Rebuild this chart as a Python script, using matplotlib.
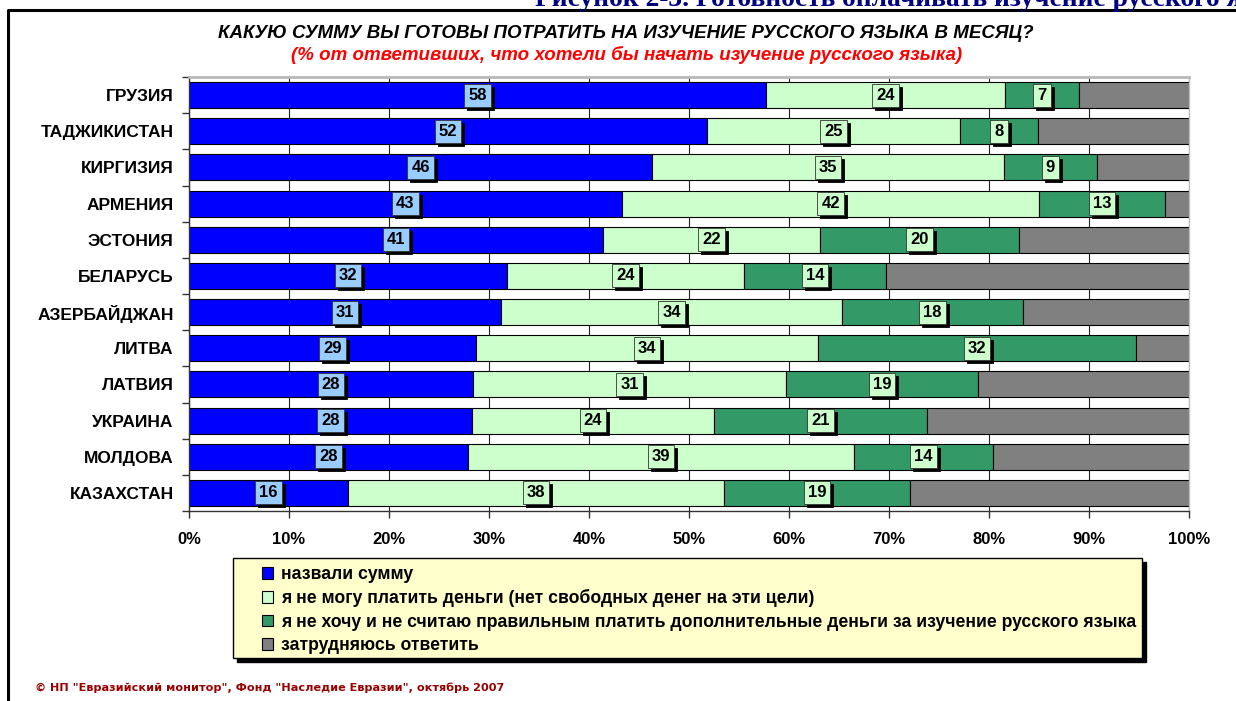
import matplotlib
matplotlib.use('Agg')
import matplotlib.pyplot as plt
import matplotlib.transforms as mtransforms
from matplotlib.patches import Rectangle
from matplotlib.lines import Line2D

plt.rcParams['font.family'] = ['Liberation Sans', 'DejaVu Sans']

countries = ["ГРУЗИЯ", "ТАДЖИКИСТАН", "КИРГИЗИЯ", "АРМЕНИЯ", "ЭСТОНИЯ", "БЕЛАРУСЬ",
             "АЗЕРБАЙДЖАН", "ЛИТВА", "ЛАТВИЯ", "УКРАИНА", "МОЛДОВА", "КАЗАХСТАН"]
named_sum = [57.7, 51.8, 46.3, 43.3, 41.4, 31.8, 31.2, 28.7, 28.4, 28.3, 27.9, 15.9]
cannot_pay = [23.9, 25.3, 35.2, 41.7, 21.7, 23.7, 34.1, 34.2, 31.3, 24.2, 38.6, 37.6]
dont_want = [7.4, 7.8, 9.3, 12.6, 19.9, 14.2, 18.1, 31.8, 19.2, 21.3, 13.9, 18.6]
hard_to_say = [11.0, 15.1, 9.2, 2.4, 17.0, 30.3, 16.6, 5.3, 21.1, 26.2, 19.6, 27.9]

series_names = ["назвали сумму",
                "я не могу платить деньги (нет свободных денег на эти цели)",
                "я не хочу и не считаю правильным платить дополнительные деньги за изучение русского языка",
                "затрудняюсь ответить"]
x_ticks = [0, 10, 20, 30, 40, 50, 60, 70, 80, 90, 100]
x_tick_labels = ["0%", "10%", "20%", "30%", "40%", "50%", "60%", "70%", "80%", "90%", "100%"]

title = "КАКУЮ СУММУ ВЫ ГОТОВЫ ПОТРАТИТЬ НА ИЗУЧЕНИЕ РУССКОГО ЯЗЫКА В МЕСЯЦ?"
subtitle = "(% от ответивших, что хотели бы начать изучение русского языка)"
header_prefix = "Рисунок 2-3. "
header_rest = "Готовность оплачивать изучение русского языка"
footer = "© НП \"Евразийский монитор\", Фонд \"Наследие Евразии\", октябрь 2007"

colors = ["#0000FF", "#CCFFCC", "#339966", "#808080"]
label_fc = ["#99CCFF", "#CCFFCC", "#CCFFCC", None]

W, H = 1236, 701
fig = plt.figure(figsize=(W / 100, H / 100), dpi=100)
fig.patch.set_facecolor('white')

def fx(px):
    return px / W

def fy(py):
    return 1 - py / H

ax = fig.add_axes([fx(189), fy(511), 1000 / W, 434 / H])

series = [named_sum, cannot_pay, dont_want, hard_to_say]
ypos = list(range(len(countries)))
lefts = [0.0] * len(countries)
containers = []
for s_idx, vals in enumerate(series):
    bc = ax.barh(ypos, vals, left=lefts, height=0.72, color=colors[s_idx],
                 edgecolor='black', linewidth=0.8, zorder=2, label=series_names[s_idx])
    containers.append(bc)
    if label_fc[s_idx] is not None:
        shadow_tr = mtransforms.offset_copy(ax.transData, fig=fig, x=3, y=-3, units='dots')
        for yi, (l, v) in enumerate(zip(lefts, vals)):
            cx = l + v / 2
            txt = f"{v:.0f}"
            ax.text(cx, yi, txt, ha='center', va='center', fontsize=12, fontweight='bold',
                    color='black', transform=shadow_tr, zorder=4,
                    bbox=dict(boxstyle='square,pad=0.24', fc='black', ec='black', lw=0.6))
            ax.text(cx, yi, txt, ha='center', va='center', fontsize=12, fontweight='bold',
                    color='black', zorder=5,
                    bbox=dict(boxstyle='square,pad=0.24', fc=label_fc[s_idx], ec='#333333', lw=0.6))
    lefts = [l + v for l, v in zip(lefts, vals)]

ax.set_xlim(0, 100)
ax.set_ylim(len(countries) - 0.5, -0.5)
ax.set_xticks(x_ticks)
ax.set_xticklabels(x_tick_labels, fontsize=12, fontweight='bold')
ax.set_yticks(ypos)
ax.set_yticklabels(countries, fontsize=12.5, fontweight='bold')
ax.tick_params(axis='y', which='major', length=0, pad=11)
ax.set_yticks([k + 0.5 for k in range(-1, len(countries))], minor=True)
ax.tick_params(axis='y', which='minor', length=5, width=1, color='#333333', direction='out')
ax.tick_params(axis='x', which='major', length=5, width=1, color='#333333', direction='out', pad=10)
ax.xaxis.grid(True, color='#222222', linewidth=0.8, zorder=0)
ax.set_axisbelow(True)
ax.spines['top'].set_color('#B8B8B8')
ax.spines['top'].set_linewidth(2)
ax.spines['right'].set_color('#C0C0C0')
ax.spines['right'].set_linewidth(1)
for side in ['left', 'bottom']:
    ax.spines[side].set_color('#333333')
    ax.spines[side].set_linewidth(1)

# Titles
fig.text(fx(626), fy(33), title, ha='center', va='center', fontsize=13.5,
         fontweight='bold', style='italic', color='black')
fig.text(fx(627), fy(55), subtitle, ha='center', va='center', fontsize=13.5,
         fontweight='bold', style='italic', color='#FF0000')

# header (clipped at top of the figure), placed so that "Готовность..." starts at x=703
renderer = fig.canvas.get_renderer()
hdr_size = 19.8
probe = fig.text(0, 0, header_prefix.strip() + "_", fontsize=hdr_size, fontweight='bold',
                 family='Liberation Serif')
pre_w = probe.get_window_extent(renderer).width
probe.remove()
fig.text(fx(703 - pre_w), fy(5.5), header_prefix + header_rest, ha='left', va='baseline',
         fontsize=hdr_size, fontweight='bold', color='#000080', family='Liberation Serif')

fig.text(fx(35), fy(688), footer, ha='left', va='center', fontsize=8.1,
         fontweight='bold', color='#990000', family='DejaVu Sans')

# outer frame
fig.add_artist(Line2D([fx(8), fx(8), 1.0], [0.0, fy(9.5), fy(9.5)], transform=fig.transFigure,
                      color='black', linewidth=2.2))

# legend box with shadow
lx0, ly0, lx1, ly1 = 233, 558, 1142, 658
fig.add_artist(Rectangle((fx(lx0 + 4), fy(ly1 + 4)), (lx1 - lx0) / W, (ly1 - ly0) / H,
                         transform=fig.transFigure, facecolor='black', edgecolor='black', zorder=1))
fig.add_artist(Rectangle((fx(lx0), fy(ly1)), (lx1 - lx0) / W, (ly1 - ly0) / H,
                         transform=fig.transFigure, facecolor='#FFFFCC', edgecolor='black',
                         linewidth=1, zorder=2))
leg = fig.legend(containers, series_names, loc='upper left', bbox_to_anchor=(fx(262), fy(566)),
                 bbox_transform=fig.transFigure, frameon=False, borderpad=0, borderaxespad=0,
                 prop={'size': 12.7, 'weight': 'bold'}, handlelength=0.65, handleheight=0.65,
                 handletextpad=0.4, labelspacing=0.36)
leg.set_zorder(3)

fig.savefig('out.png', dpi=100)
